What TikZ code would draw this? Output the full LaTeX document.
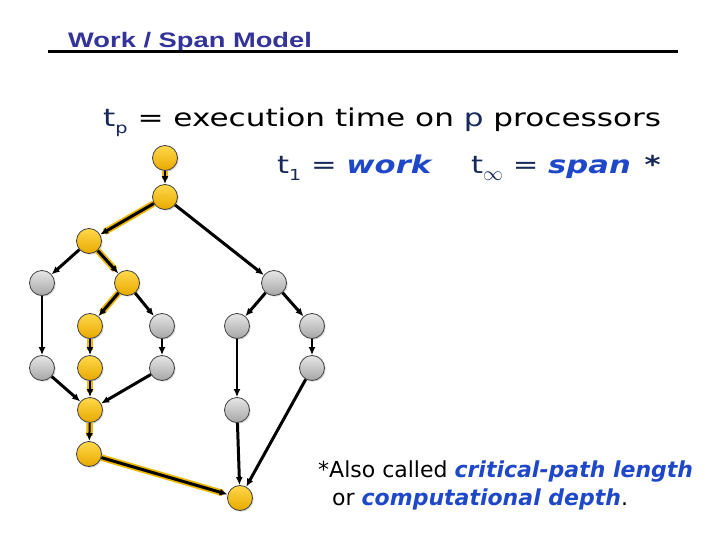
\documentclass[tikz,border=0pt]{standalone}
\usepackage{fontspec}
\setmainfont{DejaVu Sans}
\newfontfamily\titlefont[FakeStretch=1.3]{Liberation Sans}
\newfontfamily\widefont[FakeStretch=1.25]{DejaVu Sans}
\newfontfamily\widerfont[FakeStretch=1.27]{DejaVu Sans}
\usetikzlibrary{arrows.meta,shadows}
\definecolor{titleblue}{HTML}{333399}
\definecolor{navytxt}{HTML}{17285A}
\definecolor{emblue}{HTML}{1E48C8}
\definecolor{glow}{HTML}{EDB800}
\definecolor{ytop}{HTML}{FFD94A}
\definecolor{ybot}{HTML}{E8A800}
\definecolor{gtop}{HTML}{E6E6E6}
\definecolor{gbot}{HTML}{A6A6A6}
\newcommand\lowsub[1]{\raisebox{-0.28em}{\scalebox{0.62}{#1}}}
\tikzset{
  vtx/.style={circle, minimum size=25pt, inner sep=0pt, draw=black!75, line width=0.8pt,
    drop shadow={shadow xshift=1.2pt, shadow yshift=-1.2pt, opacity=0.3}},
  ynode/.style={vtx, top color=ytop, bottom color=ybot},
  gnode/.style={vtx, top color=gtop, bottom color=gbot},
  edge/.style={-{Latex[length=8pt,width=7pt]}, black},
  thinE/.style={edge, line width=2pt},
  thickE/.style={edge, line width=3pt},
  hl/.style={glow, line width=6.5pt, shorten >=5pt},
  txt/.style={anchor=base west, inner sep=0pt}
}
\begin{document}
\begin{tikzpicture}[x=1pt,y=-1pt]
\useasboundingbox (0,0) rectangle (720,540);
\fill[white] (0,0) rectangle (720,540);

% title
\node[txt, text=titleblue, font=\titlefont\bfseries\fontsize{21}{24}\selectfont] (title) at (68,48) {Work / Span Model};
\coordinate (ul1) at (48,52);
\coordinate (ul2) at (678,52);
\draw[line width=3pt] (ul1) -- (ul2);

% text
\node[txt, font=\widerfont\fontsize{24.5}{28}\selectfont] (l1) at (103,127)
  {\textcolor{navytxt}{t\lowsub{p}} = execution time on \textcolor{navytxt}{p} processors};
\node[txt, font=\widefont\fontsize{24.5}{28}\selectfont, text=navytxt] (w) at (277,174)
  {t\lowsub{1} = \textcolor{emblue}{\bfseries\itshape work}};
\node[txt, font=\widefont\fontsize{24.5}{28}\selectfont, text=navytxt] (s) at (471,174)
  {t\raisebox{-0.28em}{\scalebox{0.8}{$\infty$}} = \textcolor{emblue}{\bfseries\itshape span} \,{\bfseries *}};
\node[txt, font=\fontsize{22}{26}\selectfont] (f1) at (318,477)
  {*Also called \textcolor{emblue}{\bfseries\itshape critical-path length}};
\node[txt, font=\fontsize{22}{26}\selectfont] (f2) at (332,505)
  {or \textcolor{emblue}{\bfseries\itshape computational depth}.};

% nodes
\node[ynode] (n1) at (165,158) {};
\node[ynode] (n2) at (165,197) {};
\node[ynode] (n3) at (89,241) {};
\node[gnode] (n4) at (42,283) {};
\node[ynode] (n5) at (127,283) {};
\node[gnode] (n6) at (274,283) {};
\node[ynode] (n7) at (90,326) {};
\node[gnode] (n8) at (162,326) {};
\node[gnode] (n9) at (237,326) {};
\node[gnode] (n10) at (312,326) {};
\node[gnode] (n11) at (42,368) {};
\node[ynode] (n12) at (90,368) {};
\node[gnode] (n13) at (162,368) {};
\node[gnode] (n14) at (312,368) {};
\node[ynode] (n15) at (90,410) {};
\node[gnode] (n16) at (237,410) {};
\node[ynode] (n17) at (89,454) {};
\node[ynode] (n18) at (240,498) {};

% glow of critical path
\draw[hl] (n1) -- (n2);
\draw[hl] (n2) -- (n3);
\draw[hl] (n3) -- (n5);
\draw[hl] (n5) -- (n7);
\draw[hl] (n7) -- (n12);
\draw[hl] (n12) -- (n15);
\draw[hl] (n15) -- (n17);
\draw[hl] (n17) -- (n18);

% edges
\draw[thinE] (n1) -- (n2);
\draw[thickE] (n2) -- (n3);
\draw[thickE] (n2) -- (n6);
\draw[thickE] (n3) -- (n4);
\draw[thickE] (n3) -- (n5);
\draw[thickE] (n5) -- (n7);
\draw[thickE] (n5) -- (n8);
\draw[thickE] (n6) -- (n9);
\draw[thickE] (n6) -- (n10);
\draw[thinE] (n4) -- (n11);
\draw[thinE] (n7) -- (n12);
\draw[thinE] (n8) -- (n13);
\draw[thinE] (n9) -- (n16);
\draw[thinE] (n10) -- (n14);
\draw[thickE] (n11) -- (n15);
\draw[thinE] (n12) -- (n15);
\draw[thickE] (n13) -- (n15);
\draw[thinE] (n15) -- (n17);
\draw[thickE] (n17) -- (n18);
\draw[thickE] (n16) -- (n18);
\draw[thickE] (n14) -- (n18);
\end{tikzpicture}
\end{document}
